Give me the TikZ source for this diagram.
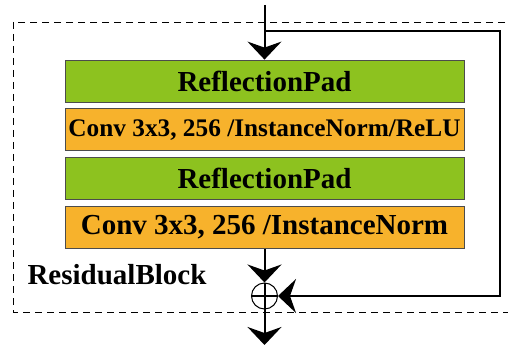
\documentclass[tikz,border=0pt]{standalone}
\usepackage{fontspec}
\setmainfont{Liberation Serif}
\usetikzlibrary{arrows.meta,positioning}

\definecolor{padgreen}{RGB}{141,194,31}
\definecolor{convorange}{RGB}{247,178,44}

\begin{document}
\begin{tikzpicture}[x=1pt,
            y=-1pt,
            node distance=6pt,
            layer/.style={draw=black!70, line width=0.8pt,
                          minimum width=399pt, minimum height=42pt, inner sep=0pt,
                          font=\fontsize{29}{31}\selectfont\bfseries},
            pad/.style={layer, fill=padgreen},
            conv/.style={layer, fill=convorange},
            flow/.style={-{Stealth[length=18pt,width=34pt,inset=6pt]}, line width=2pt}]

        \useasboundingbox (0,0) rectangle (508,347);

        % block outline
        \draw[dash pattern=on 7pt off 5pt, line width=0.9pt] (13,22) rectangle (515,312);

        \node[pad]              (pad1) at (264.5,81) {ReflectionPad};
        \node[conv, below=of pad1,
              font=\fontsize{25.3}{27}\selectfont\bfseries]
                                (conv1) {Conv 3x3, 256 /InstanceNorm/ReLU};
        \node[pad, below=of conv1]  (pad2)  {ReflectionPad};
        \node[conv, below=of pad2]  (conv2) {Conv 3x3, 256 /InstanceNorm};

        \node[draw, circle, minimum size=26pt, inner sep=0pt, line width=1pt]
                                (sum) at (264.5,296) {};
        \draw[line width=2pt] (sum.north) -- (sum.south)
                              (sum.west) -- (sum.east);

        \node[anchor=base west, font=\fontsize{29}{31}\selectfont\bfseries]
                                (name) at (24,284) {ResidualBlock};

        \coordinate (in)    at (264.5,5);
        \coordinate (split) at (264.5,31);
        \coordinate (ne)    at (500,31);
        \coordinate (se)    at (500,296);
        \coordinate (out)   at (264.5,345);

        % main path and skip connection
        \draw[flow] (in) -- (pad1);
        \draw[flow] (split) -- (ne) -- (se) -- (sum);
        \draw[flow] (conv2) -- (sum);
        \draw[flow] (sum) -- (out);

\end{tikzpicture}
\end{document}
